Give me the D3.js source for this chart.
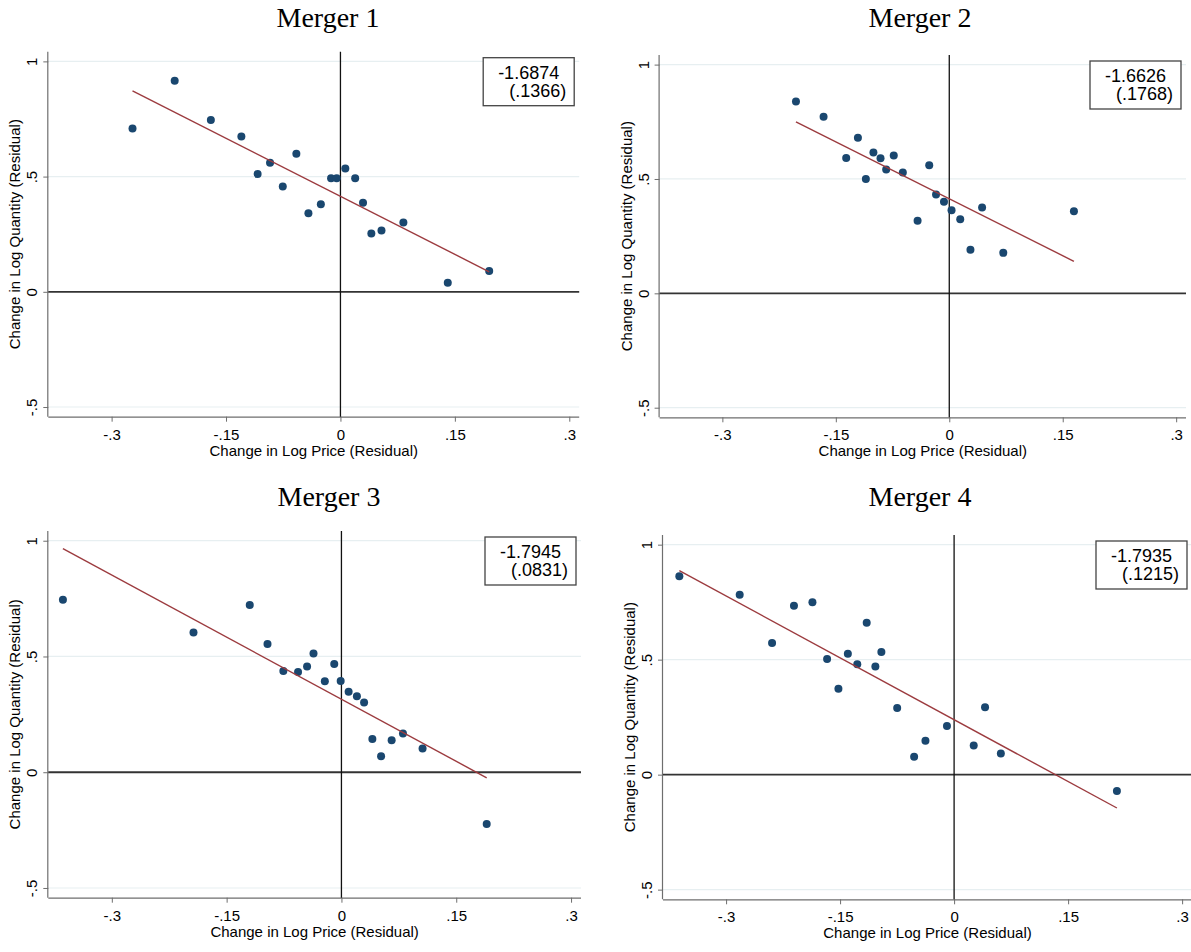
<!DOCTYPE html>
<html>
<head>
<meta charset="utf-8">
<script src="https://cdn.jsdelivr.net/npm/d3@7"></script>
<style>
  html, body { margin: 0; padding: 0; background: #ffffff; }
  svg { display: block; }
</style>
</head>
<body>
<svg id="chart" width="1191" height="952"></svg>
<script>
// ---------------- DATA ----------------
const titles = ["Merger 1", "Merger 2", "Merger 3", "Merger 4"];
const coefLabels = ["-1.6874", "-1.6626", "-1.7945", "-1.7935"];
const seLabels = ["(.1366)", "(.1768)", "(.0831)", "(.1215)"];

const xTicks = [-0.3, -0.15, 0, 0.15, 0.3];
const xTickLabels = ["-.3", "-.15", "0", ".15", ".3"];
const yTicks = [-0.5, 0, 0.5, 1];
const yTickLabels = ["-.5", "0", ".5", "1"];
const xTitle = "Change in Log Price (Residual)";
const yTitle = "Change in Log Quantity (Residual)";

const m1x = [-0.2726, -0.2173, -0.1699, -0.1299, -0.1086, -0.0923, -0.0756, -0.0578, -0.0420, -0.0257, -0.0123, -0.0049, 0.0064, 0.0193, 0.0296, 0.0405, 0.0538, 0.0825, 0.1407, 0.1950];
const m1y = [0.709, 0.916, 0.746, 0.674, 0.511, 0.560, 0.457, 0.599, 0.341, 0.380, 0.493, 0.493, 0.535, 0.493, 0.386, 0.253, 0.266, 0.301, 0.039, 0.090];

const m2x = [-0.2027, -0.1662, -0.1363, -0.1208, -0.1103, -0.1003, -0.0909, -0.0834, -0.0734, -0.0614, -0.0419, -0.0265, -0.0175, -0.0070, 0.0030, 0.0145, 0.0280, 0.0434, 0.0714, 0.1648];
const m2y = [0.839, 0.772, 0.592, 0.680, 0.500, 0.616, 0.591, 0.541, 0.603, 0.528, 0.317, 0.560, 0.432, 0.400, 0.363, 0.324, 0.190, 0.375, 0.177, 0.359];

const m3x = [-0.3639, -0.1933, -0.1198, -0.0966, -0.0759, -0.0567, -0.0449, -0.0365, -0.0217, -0.0094, -0.0010, 0.0094, 0.0202, 0.0296, 0.0404, 0.0518, 0.0656, 0.0804, 0.1060, 0.1898];
const m3y = [0.745, 0.604, 0.722, 0.554, 0.437, 0.433, 0.457, 0.513, 0.393, 0.467, 0.394, 0.348, 0.328, 0.301, 0.144, 0.069, 0.138, 0.167, 0.102, -0.224];

const m4x = [-0.3615, -0.2821, -0.2395, -0.2107, -0.1864, -0.1671, -0.1522, -0.1398, -0.1274, -0.1150, -0.1036, -0.0957, -0.0749, -0.0526, -0.0377, -0.0094, 0.0258, 0.0407, 0.0615, 0.2142];
const m4y = [0.863, 0.782, 0.572, 0.734, 0.750, 0.503, 0.373, 0.526, 0.480, 0.660, 0.470, 0.533, 0.290, 0.078, 0.147, 0.212, 0.127, 0.293, 0.092, -0.071];

// fitted-line endpoints
const fit1x = [-0.2726, 0.1950], fit1y = [0.872, 0.087];
const fit2x = [-0.2027, 0.1648], fit2y = [0.750, 0.140];
const fit3x = [-0.3639, 0.1898], fit3y = [0.966, -0.024];
const fit4x = [-0.3615, 0.2142], fit4y = [0.887, -0.145];

const xDomain = [-0.383, 0.313];
const yDomain = [-0.542, 1.042];

// ---------------- LAYOUT ----------------
const panels = [
  { xs: m1x, ys: m1y, fx: fit1x, fy: fit1y, box: { l: 48.3, r: 579.2, t: 51.7, b: 416.7 }, title: { x: 328, y: 27 } },
  { xs: m2x, ys: m2y, fx: fit2x, fy: fit2y, box: { l: 659.6, r: 1186, t: 55, b: 417.3 }, title: { x: 920, y: 27 } },
  { xs: m3x, ys: m3y, fx: fit3x, fy: fit3y, box: { l: 48.3, r: 581, t: 531, b: 897.7 }, title: { x: 329, y: 506 } },
  { xs: m4x, ys: m4y, fx: fit4x, fy: fit4y, box: { l: 663, r: 1192, t: 535, b: 899.3 }, title: { x: 920, y: 506 } }
];

const dotColor = "#1a476f";
const fitColor = "#9c3b3f";
const gridColor = "#e7eff1";
const axisColor = "#6e6e6e";
const sans = "'Liberation Sans', Arial, sans-serif";
const serif = "'Liberation Serif', 'Times New Roman', serif";

const svg = d3.select("#chart");

panels.forEach((p, i) => {
  const b = p.box;
  const x = d3.scaleLinear().domain(xDomain).range([b.l, b.r]);
  const y = d3.scaleLinear().domain(yDomain).range([b.b, b.t]);
  const g = svg.append("g");

  // title
  g.append("text")
    .attr("x", p.title.x).attr("y", p.title.y)
    .attr("text-anchor", "middle")
    .attr("font-family", serif).attr("font-size", 28)
    .attr("fill", "#000")
    .text(titles[i]);

  // gridlines
  g.selectAll("line.grid").data(yTicks.filter(v => v !== 0)).enter()
    .append("line").attr("class", "grid")
    .attr("x1", b.l).attr("x2", b.r)
    .attr("y1", d => y(d)).attr("y2", d => y(d))
    .attr("stroke", gridColor).attr("stroke-width", 1.2);

  // x axis
  const xAxis = d3.axisBottom(x).tickValues(xTicks)
    .tickFormat((d, k) => xTickLabels[k]).tickSize(5).tickPadding(5);
  const xg = g.append("g").attr("transform", `translate(0,${b.b})`).call(xAxis);
  xg.select(".domain").attr("stroke", axisColor).attr("stroke-width", 1.2)
    .attr("d", `M${b.l},0.5H${b.r}`);
  xg.selectAll(".tick line").attr("stroke", axisColor);
  xg.selectAll(".tick text").attr("font-family", sans).attr("font-size", 15).attr("fill", "#000")
    .attr("dy", null).attr("y", 23);

  // y axis
  const yAxis = d3.axisLeft(y).tickValues(yTicks)
    .tickFormat((d, k) => yTickLabels[k]).tickSize(5);
  const yg = g.append("g").attr("transform", `translate(${b.l},0)`).call(yAxis);
  yg.select(".domain").attr("stroke", axisColor).attr("stroke-width", 1.2)
    .attr("d", `M-0.5,${b.t}V${b.b}`);
  yg.selectAll(".tick line").attr("stroke", axisColor);
  yg.selectAll(".tick text")
    .attr("font-family", sans).attr("font-size", 15).attr("fill", "#000")
    .attr("x", null).attr("dy", null)
    .attr("text-anchor", "middle")
    .attr("transform", "translate(-11,0) rotate(-90)")
    .attr("y", 0);

  // axis titles
  g.append("text")
    .attr("x", (b.l + b.r) / 2).attr("y", b.b + 39)
    .attr("text-anchor", "middle")
    .attr("font-family", sans).attr("font-size", 15).attr("fill", "#000")
    .text(xTitle);
  g.append("text")
    .attr("transform", `translate(${b.l - 28},${(b.t + b.b) / 2}) rotate(-90)`)
    .attr("text-anchor", "middle")
    .attr("font-family", sans).attr("font-size", 15).attr("fill", "#000")
    .text(yTitle);

  // reference lines at zero
  g.append("line")
    .attr("x1", b.l).attr("x2", b.r).attr("y1", y(0)).attr("y2", y(0))
    .attr("stroke", "#333").attr("stroke-width", 1.8);
  g.append("line")
    .attr("x1", x(0)).attr("x2", x(0)).attr("y1", b.t).attr("y2", b.b)
    .attr("stroke", "#111").attr("stroke-width", 1.3);

  // points
  const pts = p.xs.map((v, k) => [v, p.ys[k]]);
  g.selectAll("circle.pt").data(pts).enter()
    .append("circle").attr("class", "pt")
    .attr("cx", d => x(d[0])).attr("cy", d => y(d[1]))
    .attr("r", 4).attr("fill", dotColor);

  // fitted line
  const line = d3.line().x(d => x(d[0])).y(d => y(d[1]));
  g.append("path")
    .datum(p.fx.map((v, k) => [v, p.fy[k]]))
    .attr("d", line)
    .attr("fill", "none").attr("stroke", fitColor).attr("stroke-width", 1.4);

  // coefficient box
  const bw = 91, bh = 48;
  const bx = b.r - 5 - bw, by = b.t + 6;
  g.append("rect")
    .attr("x", bx).attr("y", by).attr("width", bw).attr("height", bh)
    .attr("fill", "#fff").attr("stroke", "#444").attr("stroke-width", 1.3);
  g.append("text")
    .attr("x", bx + bw - 15).attr("y", by + 21)
    .attr("text-anchor", "end")
    .attr("font-family", sans).attr("font-size", 18).attr("fill", "#000")
    .text(coefLabels[i]);
  g.append("text")
    .attr("x", bx + bw - 8).attr("y", by + 39)
    .attr("text-anchor", "end")
    .attr("font-family", sans).attr("font-size", 18).attr("fill", "#000")
    .text(seLabels[i]);
});
</script>
</body>
</html>
